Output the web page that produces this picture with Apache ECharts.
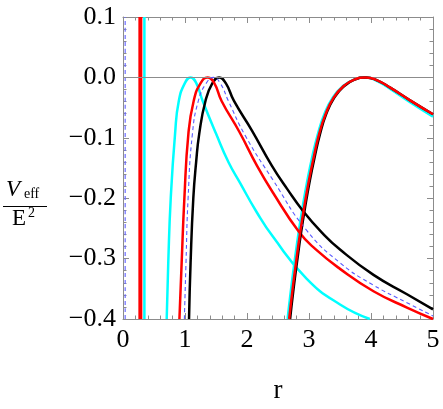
<!DOCTYPE html>
<html>
<head>
<meta charset="utf-8">
<script src="https://cdn.jsdelivr.net/npm/echarts@6/dist/echarts.min.js"></script>
<style>
html, body { margin: 0; padding: 0; background: #fff; }
#chart { width: 443px; height: 409px; }
</style>
</head>
<body>
<div id="chart"></div>
<script>
// axis range / ticks
const xTicks = [0, 1, 2, 3, 4, 5];
const yTicks = [-0.4, -0.3, -0.2, -0.1, 0.0, 0.1];

// near-vertical pole lines close to r = 0
const bluePole = [[0.035, -0.4], [0.035, 0.1]];
const redPole = [[0.28, -0.4], [0.28, 0.1]];
const cyanPole = [[0.345, -0.4], [0.345, 0.1]];

// inner branch (peak then decay)
const cyanInner = [[0.705, -0.40], [0.73, -0.307], [0.77, -0.20], [0.84, -0.093], [0.90, -0.039], [1.0, -0.009], [1.09, 0], [1.18, -0.009],
  [1.285, -0.039], [1.50, -0.093], [1.70, -0.14], [1.89, -0.175], [2.15, -0.222], [2.42, -0.264], [2.96, -0.333], [3.50, -0.376], [3.98, -0.40]];
const redInner = [[0.91, -0.40], [0.946, -0.307], [0.99, -0.20], [1.055, -0.093], [1.14, -0.039], [1.25, -0.01], [1.366, 0], [1.47, -0.009],
  [1.59, -0.039], [1.876, -0.09], [2.16, -0.146], [2.42, -0.191], [2.84, -0.256], [3.1, -0.284], [3.50, -0.317], [4.04, -0.354], [4.58, -0.381], [5.0, -0.40]];
const blackInner = [[1.065, -0.40], [1.09, -0.307], [1.134, -0.20], [1.18, -0.14], [1.23, -0.093], [1.33, -0.039], [1.44, -0.01], [1.55, 0], [1.66, -0.01],
  [1.79, -0.039], [2.08, -0.088], [2.40, -0.146], [2.65, -0.185], [2.91, -0.222], [3.2, -0.256], [3.50, -0.285], [4.04, -0.327], [4.58, -0.359], [5.0, -0.384]];
const blueInner = [[0.99, -0.40], [1.016, -0.307], [1.05, -0.20], [1.12, -0.093], [1.215, -0.039], [1.34, -0.01], [1.46, 0], [1.57, -0.01],
  [1.70, -0.039], [1.97, -0.096], [2.42, -0.17], [2.96, -0.253], [3.50, -0.307], [4.04, -0.344], [4.58, -0.373], [5.0, -0.395]];

// outer branch (second barrier)
const cyanOuter = [[2.655, -0.40], [2.705, -0.355], [2.765, -0.307], [2.835, -0.255], [2.905, -0.21], [2.975, -0.17], [3.045, -0.135], [3.14, -0.095],
  [3.25, -0.06], [3.385, -0.033], [3.54, -0.015], [3.715, -0.004], [3.92, 0], [4.1, -0.006], [4.31, -0.019], [4.63, -0.041], [5.0, -0.065]];
const blackOuter = [[2.695, -0.40], [2.745, -0.355], [2.805, -0.307], [2.875, -0.255], [2.945, -0.21], [3.015, -0.17], [3.085, -0.135], [3.175, -0.095],
  [3.28, -0.06], [3.41, -0.033], [3.56, -0.015], [3.725, -0.004], [3.92, 0], [4.1, -0.005], [4.31, -0.017], [4.63, -0.038], [5.0, -0.061]];
const redOuter = [[2.68, -0.40], [2.73, -0.355], [2.79, -0.307], [2.86, -0.255], [2.93, -0.21], [3.0, -0.17], [3.07, -0.135], [3.16, -0.095],
  [3.27, -0.06], [3.40, -0.033], [3.55, -0.015], [3.72, -0.004], [3.92, 0], [4.1, -0.005], [4.31, -0.017], [4.63, -0.038], [5.0, -0.061]];

const FRAME = '#8c8c8c';
const SERIF = '"Liberation Serif", "DejaVu Serif", serif';

function fmtY(v) {
  const s = Math.abs(v).toFixed(1);
  return Math.abs(v) < 1e-9 ? '0.0' : (v < 0 ? '\u2212' + s : s);
}

function curve(data, color, width, z, dashed) {
  return {
    type: 'line',
    data: data,
    showSymbol: false,
    symbol: 'none',
    smooth: 0.5,
    z: z,
    silent: true,
    lineStyle: { color: color, width: width, type: dashed ? [4, 3] : 'solid' }
  };
}

function frameAxis(pos, isX, showLabel) {
  const ax = {
    type: 'value',
    position: pos,
    min: isX ? xTicks[0] : yTicks[0],
    max: isX ? xTicks[xTicks.length - 1] : yTicks[yTicks.length - 1],
    interval: isX ? 1 : 0.1,
    axisLine: { show: true, onZero: false, lineStyle: { color: FRAME, width: 1 } },
    axisTick: { show: true, inside: true, length: 6, lineStyle: { color: FRAME } },
    minorTick: { show: true, splitNumber: 5, length: 3.5, lineStyle: { color: FRAME } },
    splitLine: { show: false },
    axisLabel: { show: showLabel, color: '#000', fontSize: 26, fontFamily: SERIF, margin: isX ? 8 : 7 }
  };
  if (isX && showLabel) {
    ax.name = 'r';
    ax.nameLocation = 'middle';
    ax.nameGap = 58;
    ax.nameTextStyle = { color: '#000', fontSize: 27, fontFamily: SERIF };
  }
  if (!isX) ax.axisLabel.formatter = fmtY;
  return ax;
}

const chart = echarts.init(document.getElementById('chart'));
chart.setOption({
  animation: false,
  grid: { left: 123, right: 10, top: 17, bottom: 80 },
  xAxis: [frameAxis('bottom', true, true), frameAxis('top', true, false)],
  yAxis: [frameAxis('left', false, true), frameAxis('right', false, false)],
  graphic: [
    { type: 'text', left: 6, top: 178, style: { text: 'V', font: 'italic 23px ' + SERIF, fill: '#000' } },
    { type: 'text', left: 24, top: 187, style: { text: 'eff', font: '14px ' + SERIF, fill: '#000' } },
    { type: 'line', shape: { x1: 3, y1: 206.5, x2: 47, y2: 206.5 }, style: { stroke: '#000', lineWidth: 1 } },
    { type: 'text', left: 12, top: 207, style: { text: 'E', font: '23px ' + SERIF, fill: '#000' } },
    { type: 'text', left: 28, top: 206, style: { text: '2', font: '14px ' + SERIF, fill: '#000' } }
  ],
  series: [
    Object.assign(curve(bluePole, '#6b6bff', 1.2, 2, true), {
      markLine: {
        silent: true, symbol: 'none', label: { show: false },
        lineStyle: { color: '#8c8c8c', width: 1, type: 'solid' },
        data: [{ yAxis: 0 }]
      }
    }),
    curve(cyanPole, '#00ffff', 2.5, 3),
    curve(redPole, '#ff0000', 4, 4),
    curve(cyanInner, '#00ffff', 2.5, 3),
    curve(blueInner, '#5a5aff', 1.1, 5, true),
    curve(blackInner, '#000000', 2.5, 4),
    curve(redInner, '#ff0000', 2.5, 4),
    curve(cyanOuter, '#00ffff', 2.5, 3),
    curve(blackOuter, '#000000', 2.5, 4),
    curve(redOuter, '#ff0000', 2.5, 5)
  ]
});
</script>
</body>
</html>
